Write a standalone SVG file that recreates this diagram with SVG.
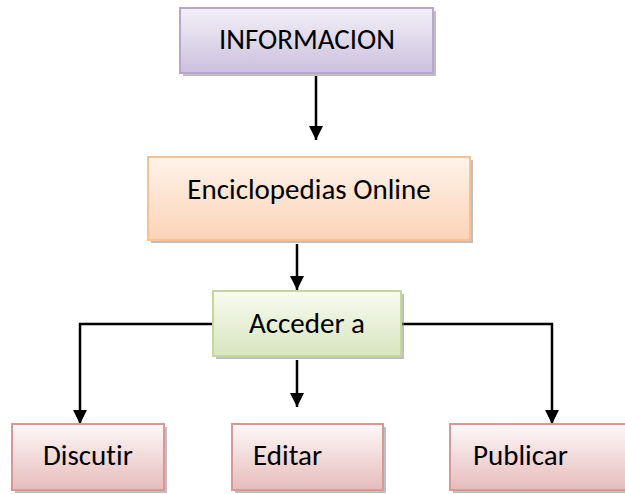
<svg xmlns="http://www.w3.org/2000/svg" width="625" height="494" viewBox="0 0 625 494">
<defs>
<linearGradient id="gPurple" x1="0" y1="0" x2="0" y2="1"><stop offset="0" stop-color="#f3f0f8"/><stop offset="1" stop-color="#cbc0dd"/></linearGradient>
<linearGradient id="gOrange" x1="0" y1="0" x2="0" y2="1"><stop offset="0" stop-color="#fff3ea"/><stop offset="1" stop-color="#fbd3b6"/></linearGradient>
<linearGradient id="gGreen" x1="0" y1="0" x2="0" y2="1"><stop offset="0" stop-color="#f8fbf0"/><stop offset="1" stop-color="#d8e5bf"/></linearGradient>
<linearGradient id="gRed" x1="0" y1="0" x2="0" y2="1"><stop offset="0" stop-color="#fdf8f8"/><stop offset="1" stop-color="#e6bcbb"/></linearGradient>
<marker id="arr" markerWidth="14" markerHeight="14" refX="14" refY="7" orient="auto" markerUnits="userSpaceOnUse"><path d="M0,0 L14,7 L0,14 Z" fill="#000"/></marker>
</defs>
<style>
.shadow{fill:#8a8a8a;opacity:0.55}
.lbl{font-family:"Carlito","Liberation Sans",Arial,sans-serif;font-size:29px;fill:#000;font-variant-ligatures:none}
.conn{fill:none;stroke:#000;stroke-width:2.5}
</style>
<g id="connectors">
<path class="conn" d="M316,76 L316,140" marker-end="url(#arr)"/>
<path class="conn" d="M297,244 L297,290" marker-end="url(#arr)"/>
<path class="conn" d="M297,360 L297,407" marker-end="url(#arr)"/>
<path class="conn" d="M213,324 L80,324 L80,424" marker-end="url(#arr)"/>
<path class="conn" d="M401,324 L552,324 L552,424" marker-end="url(#arr)"/>
</g>
<g id="informacion">
<rect class="shadow" x="183" y="11" width="253" height="65"/>
<rect x="180" y="8" width="253" height="65" fill="url(#gPurple)" stroke="#b7a7cb" stroke-width="2"/>
<text class="lbl" x="307" y="49" text-anchor="middle">INFORMACION</text>
</g>
<g id="enciclopedias">
<rect class="shadow" x="151" y="160" width="322" height="83"/>
<rect x="148" y="157" width="322" height="83" fill="url(#gOrange)" stroke="#f9c092" stroke-width="2"/>
<text class="lbl" x="309" y="199" text-anchor="middle">Enciclopedias Online</text>
</g>
<g id="acceder">
<rect class="shadow" x="216" y="294" width="188" height="65"/>
<rect x="213" y="291" width="188" height="65" fill="url(#gGreen)" stroke="#c4d79d" stroke-width="2"/>
<text class="lbl" x="307" y="333" text-anchor="middle">Acceder a</text>
</g>
<g id="discutir">
<rect class="shadow" x="15" y="427" width="152" height="66"/>
<rect x="12" y="424" width="152" height="66" fill="url(#gRed)" stroke="#d99896" stroke-width="2"/>
<text class="lbl" x="43" y="465">Discutir</text>
</g>
<g id="editar">
<rect class="shadow" x="235" y="427" width="151" height="66"/>
<rect x="232" y="424" width="151" height="66" fill="url(#gRed)" stroke="#d99896" stroke-width="2"/>
<text class="lbl" x="253" y="465">Editar</text>
</g>
<g id="publicar">
<rect class="shadow" x="453" y="427" width="180" height="66"/>
<rect x="450" y="424" width="180" height="66" fill="url(#gRed)" stroke="#d99896" stroke-width="2"/>
<text class="lbl" x="473" y="465">Publicar</text>
</g>
</svg>
